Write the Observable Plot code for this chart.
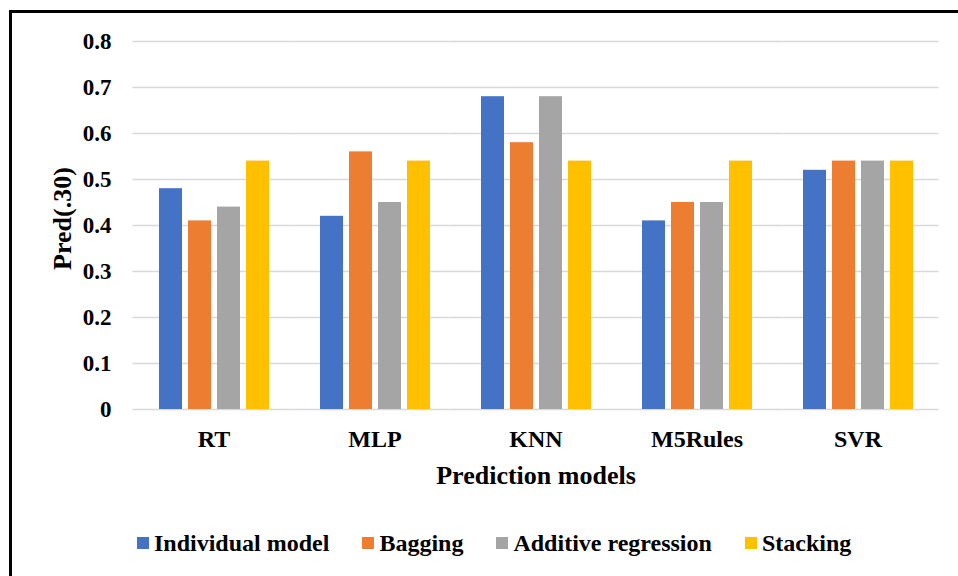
<!DOCTYPE html>
<html>
<head>
<meta charset="utf-8">
<script src="https://cdn.jsdelivr.net/npm/d3@7"></script>
<script src="https://cdn.jsdelivr.net/npm/@observablehq/plot@0.6"></script>
<style>
  body { margin: 0; background: #fff; }
  #wrap { position: relative; width: 958px; height: 576px; overflow: hidden; background: #fff;
          font-family: "Liberation Serif", "Times New Roman", serif; font-weight: bold; }
  #frame { position: absolute; left: 9px; top: 10px; width: 1000px; height: 700px;
           border: 3px solid #000; box-sizing: border-box; pointer-events: none; }
  #legend { position: absolute; left: 137px; top: 531px; height: 24px; display: flex; align-items: center;
            font-size: 24px; color: #000; white-space: nowrap; }
  .item { display: flex; align-items: center; margin-right: 33px; }
  .sw { width: 12px; height: 12px; margin-right: 5px; }
</style>
</head>
<body>
<div id="wrap">
  <div id="chart"></div>
  <div id="legend"></div>
  <div id="frame"></div>
</div>
<script>
const categories = ["RT", "MLP", "KNN", "M5Rules", "SVR"];
const seriesNames = ["Individual model", "Bagging", "Additive regression", "Stacking"];
const individualModel = [0.48, 0.42, 0.68, 0.41, 0.52];
const bagging = [0.41, 0.56, 0.58, 0.45, 0.54];
const additiveRegression = [0.44, 0.45, 0.68, 0.45, 0.54];
const stacking = [0.54, 0.54, 0.54, 0.54, 0.54];
const colors = ["#4472C4", "#ED7D31", "#A5A5A5", "#FFC000"];
const yTicks = [0, 0.1, 0.2, 0.3, 0.4, 0.5, 0.6, 0.7, 0.8];
const yTickLabels = ["0", "0.1", "0.2", "0.3", "0.4", "0.5", "0.6", "0.7", "0.8"];
const yTitle = "Pred(.30)";
const xTitle = "Prediction models";

const seriesValues = [individualModel, bagging, additiveRegression, stacking];
const data = [];
seriesValues.forEach((arr, si) => arr.forEach((v, ci) => data.push({category: categories[ci], series: seriesNames[si], value: v})));

const font = '"Liberation Serif", "Times New Roman", serif';

const plot = Plot.plot({
  width: 958,
  height: 510,
  marginTop: 41,
  marginBottom: 101,
  marginLeft: 132,
  marginRight: 18,
  style: {fontFamily: font, fontWeight: "bold", color: "#000", background: "transparent"},
  fx: {domain: categories, paddingInner: 0.31, paddingOuter: 0.155, label: null},
  x: {domain: seriesNames, paddingInner: 0.21, paddingOuter: 0, axis: null},
  y: {domain: [0, 0.8], label: null},
  color: {domain: seriesNames, range: colors},
  marks: [
    Plot.ruleY(yTicks, {y: d => d, stroke: "#d9d9d9", strokeWidth: 1.5, insetLeft: -25.6, insetRight: -25.6}),
    Plot.barY(data, {fx: "category", x: "series", y: "value", fill: "series"}),
    Plot.axisY(yTicks, {tickSize: 0, tickPadding: 47, fontSize: 23, label: null,
      tickFormat: d => yTickLabels[yTicks.indexOf(d)]}),
    Plot.text([yTitle], {fx: () => categories[0], text: d => d, frameAnchor: "left", rotate: -90,
      lineAnchor: "middle", textAnchor: "middle", dx: -96, dy: -7, fontSize: 26, fontWeight: "bold", fill: "#000"}),
    Plot.axisFx({anchor: "bottom", tickSize: 0, tickPadding: 20, fontSize: 24, label: null}),
    Plot.axisFx([], {anchor: "bottom", tickSize: 0, fontSize: 26, label: xTitle, labelArrow: false,
      labelAnchor: "center", labelOffset: 74})
  ]
});
document.getElementById("chart").appendChild(plot);

const legend = document.getElementById("legend");
seriesNames.forEach((name, i) => {
  const item = document.createElement("div");
  item.className = "item";
  const sw = document.createElement("div");
  sw.className = "sw";
  sw.style.background = colors[i];
  const label = document.createElement("span");
  label.textContent = name;
  item.appendChild(sw);
  item.appendChild(label);
  legend.appendChild(item);
});
</script>
</body>
</html>
